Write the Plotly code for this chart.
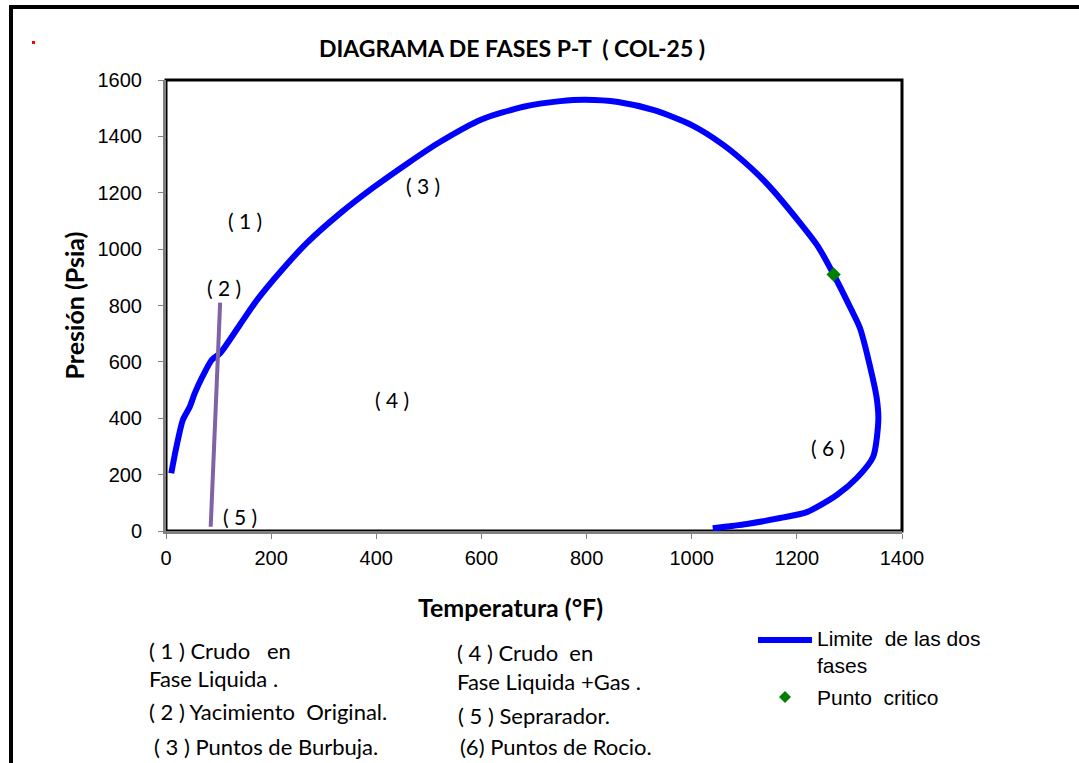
import plotly.graph_objects as go

# Phase envelope (bubble-point branch -> critical point -> dew-point branch)
temp_f = [10, 20, 32, 45, 55, 70, 87, 103, 140, 173, 220, 268, 330, 394, 460, 521,
          600, 680, 750, 797, 860, 930, 1000, 1060, 1111, 1149, 1206, 1240, 1270, 1301,
          1320, 1343, 1352, 1355, 1345, 1314, 1276, 1219, 1168, 1105, 1040]
pres_psia = [205, 300, 394, 440, 490, 550, 607, 631, 730, 819, 925, 1022, 1125, 1218,
             1305, 1380, 1460, 1505, 1525, 1530, 1522, 1492, 1440, 1370, 1291, 1220, 1093,
             1010, 910, 795, 720, 553, 470, 394, 263, 188, 128, 67, 46, 25, 10]

# Critical point
crit_t = [1270]
crit_p = [910]

# Reservoir-to-separator path
path_t = [85, 103]
path_p = [15, 810]

# Region labels inside the plot
region_text = ["( 1 )", "( 2 )", "( 3 )", "( 4 )", "( 5 )", "( 6 )"]
region_t = [150, 110, 489, 430, 141, 1259]
region_p = [1103, 865, 1224, 465, 53, 298]

x_ticks = [0, 200, 400, 600, 800, 1000, 1200, 1400]
y_ticks = [0, 200, 400, 600, 800, 1000, 1200, 1400, 1600]

W, H = 1079, 763
L, R, T, B = 166, 902, 80, 531


def px(x):
    return (x - L) / (R - L)


def py(y):
    return (B - y) / (B - T)


fig = go.Figure()
fig.add_trace(go.Scatter(x=temp_f, y=pres_psia, mode="lines",
                         line=dict(color="#0000FF", width=6, shape="spline", smoothing=0.7),
                         showlegend=False))
fig.add_trace(go.Scatter(x=path_t, y=path_p, mode="lines",
                         line=dict(color="#7F63A5", width=4), showlegend=False))
fig.add_trace(go.Scatter(x=crit_t, y=crit_p, mode="markers",
                         marker=dict(symbol="diamond", color="#008000", size=11),
                         showlegend=False))

calibri_like = "Lato"
annotations = []
for txt, t, p in zip(region_text, region_t, region_p):
    annotations.append(dict(x=t, y=p, xref="x", yref="y", text=txt, showarrow=False,
                            font=dict(family=calibri_like, size=21, color="#000")))

annotations.append(dict(x=px(512), y=py(48), xref="paper", yref="paper",
                        xanchor="center", yanchor="middle",
                        text="<b>DIAGRAMA DE FASES P-T  ( COL-25 )</b>", showarrow=False,
                        font=dict(family=calibri_like, size=23, color="#000")))

# X axis title sits left of the plot centre
annotations.append(dict(x=px(510), y=py(607), xref="paper", yref="paper",
                        xanchor="center", yanchor="middle",
                        text="<b>Temperatura (°F)</b>", showarrow=False,
                        font=dict(family=calibri_like, size=25, color="#000")))

# Manual legend
sans = dict(family="Liberation Sans", size=21, color="#000")
annotations.append(dict(x=px(815), y=py(652), xref="paper", yref="paper",
                        text="Limite  de las dos<br>fases", showarrow=False, align="left",
                        xanchor="left", yanchor="middle", font=sans))
annotations.append(dict(x=px(815), y=py(697), xref="paper", yref="paper",
                        text="Punto  critico", showarrow=False,
                        xanchor="left", yanchor="middle", font=sans))

notes = [
    ("( 1 ) Crudo   en", 147, 650),
    ("Fase Liquida .", 147, 678),
    ("( 2 ) Yacimiento  Original.", 147, 711),
    ("( 3 ) Puntos de Burbuja.", 152, 746),
    ("( 4 ) Crudo  en", 455, 652),
    ("Fase Liquida +Gas .", 455, 681),
    ("( 5 ) Seprarador.", 456, 715),
    ("(6) Puntos de Rocio.", 458, 746),
]
for txt, x, y in notes:
    annotations.append(dict(x=px(x), y=py(y), xref="paper", yref="paper", text=txt,
                            showarrow=False, xanchor="left", yanchor="middle",
                            font=dict(family=calibri_like, size=22, color="#000")))

shapes = [
    # outer frame
    dict(type="rect", xref="paper", yref="paper", x0=px(11), x1=px(1090),
         y0=py(790), y1=py(7), line=dict(color="#000", width=4), layer="below"),
    # plot-area frame
    dict(type="rect", xref="paper", yref="paper", x0=0, x1=1, y0=0, y1=1,
         line=dict(color="#000", width=3), layer="below"),
    # legend line
    dict(type="line", xref="paper", yref="paper", x0=px(758), x1=px(812),
         y0=py(640), y1=py(640), line=dict(color="#0000FF", width=6)),
    # legend diamond
    dict(type="path", xref="paper", yref="paper", xsizemode="pixel", ysizemode="pixel",
         xanchor=px(785), yanchor=py(697),
         path="M 0 6 L 6 0 L 0 -6 L -6 0 Z", fillcolor="#008000",
         line=dict(width=0)),
    # small red mark in the corner
    dict(type="rect", xref="paper", yref="paper", x0=px(32), x1=px(35),
         y0=py(44), y1=py(41), line=dict(width=0), fillcolor="#FF0000"),
]

fig.update_layout(
    width=W, height=H,
    margin=dict(l=L, r=W - R, t=T, b=H - B, pad=0),
    paper_bgcolor="#FFFFFF", plot_bgcolor="#FFFFFF",
    showlegend=False,
    annotations=annotations,
    shapes=shapes,
    xaxis=dict(range=[0, 1400], tickvals=x_ticks, ticks="outside", ticklen=5,
               tickcolor="#808080", showline=True, linecolor="#808080", linewidth=3,
               showgrid=False, zeroline=False, ticklabelstandoff=2,
               tickfont=dict(family="Liberation Sans", size=20, color="#000")),
    yaxis=dict(range=[0, 1600], tickvals=y_ticks, ticks="outside", ticklen=5,
               tickcolor="#808080", showline=True, linecolor="#808080", linewidth=3,
               showgrid=False, zeroline=False, ticklabelstandoff=12,
               tickfont=dict(family="Liberation Sans", size=20, color="#000"),
               title=dict(text="<b>Presión (Psia)</b>", standoff=6,
                          font=dict(family=calibri_like, size=25, color="#000"))),
)

fig.write_html("out.html")
